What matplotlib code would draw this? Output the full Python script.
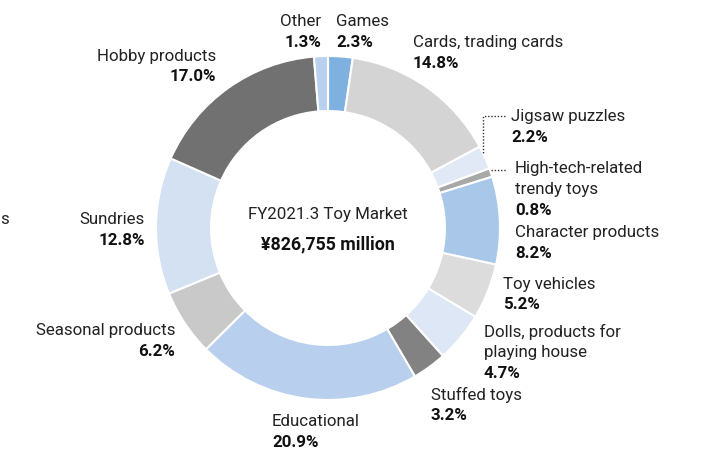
import matplotlib.pyplot as plt

W, H = 717, 452

CATEGORIES = [
    "Games", "Cards, trading cards", "Jigsaw puzzles",
    "High-tech-related\ntrendy toys", "Character products", "Toy vehicles",
    "Dolls, products for\nplaying house", "Stuffed toys", "Educational",
    "Seasonal products", "Sundries", "Hobby products", "Other",
]
SHARES = [2.3, 14.8, 2.2, 0.8, 8.2, 5.2, 4.7, 3.2, 20.9, 6.2, 12.8, 17.0, 1.3]
COLORS = [
    "#7fb1e0", "#d4d4d4", "#e1e9f6", "#a8a8a8", "#a9c7e9", "#dcdcdc",
    "#dde7f5", "#828282", "#b8cfed", "#c8c9c8", "#d3e1f3", "#717171", "#b9d1ef",
]

# label anchor (pixel x, pixel y of first line, alignment)
LABEL_POS = [
    (336, 22, "left"), (413, 43, "left"), (511, 117, "left"),
    (515, 169, "left"), (515, 233, "left"), (503, 284, "left"),
    (484, 332, "left"), (431, 395, "left"), (272, 422, "left"),
    (175, 331, "right"), (145, 220, "right"), (216, 56, "right"),
    (321, 22, "right"),
]

plt.rcParams["font.family"] = ["Roboto", "DejaVu Sans"]
fig = plt.figure(figsize=(W / 100, H / 100), dpi=100)
ax = fig.add_axes([0, 0, 1, 1])

cx, cy, r = 328, H - 229, 172
ax.pie(SHARES, colors=COLORS, startangle=90, counterclock=False,
       center=(cx, cy), radius=r,
       wedgeprops=dict(width=r * 0.32, edgecolor="white", linewidth=1.5))
ax.set_xlim(0, W)
ax.set_ylim(0, H)
ax.set_aspect("equal")
ax.axis("off")

fs = 12.2
lh = 20.8
for name, val, (px, py, ha) in zip(CATEGORIES, SHARES, LABEL_POS):
    lines = name.split("\n")
    for i, line in enumerate(lines):
        ax.text(px, H - (py + i * lh), line, ha=ha, va="center", fontsize=fs,
                color="#222222")
    ax.text(px, H - (py + len(lines) * lh), f"{val:.1f}%", ha=ha, va="center",
            fontsize=fs, fontweight="bold", color="#111111")

# dotted leaders for the thin slices
ax.plot([505, 483, 483], [H - 117, H - 117, H - 155], ls=(0, (1, 1.3)),
        color="#333333", lw=1.0)
ax.plot([491, 507], [H - 171, H - 171], ls=(0, (1, 1.3)), color="#333333", lw=1.0)

# clipped label at the left edge
ax.text(0, H - 220, "s", ha="left", va="center", fontsize=fs, color="#222222")

ax.text(cx, H - 215, "FY2021.3 Toy Market", ha="center", va="center",
        fontsize=12.2, color="#222222")
ax.text(cx, H - 244, "¥826,755 million", ha="center", va="center",
        fontsize=12.8, fontweight="bold", color="#111111")

fig.savefig("out.png", dpi=100, facecolor="white")
